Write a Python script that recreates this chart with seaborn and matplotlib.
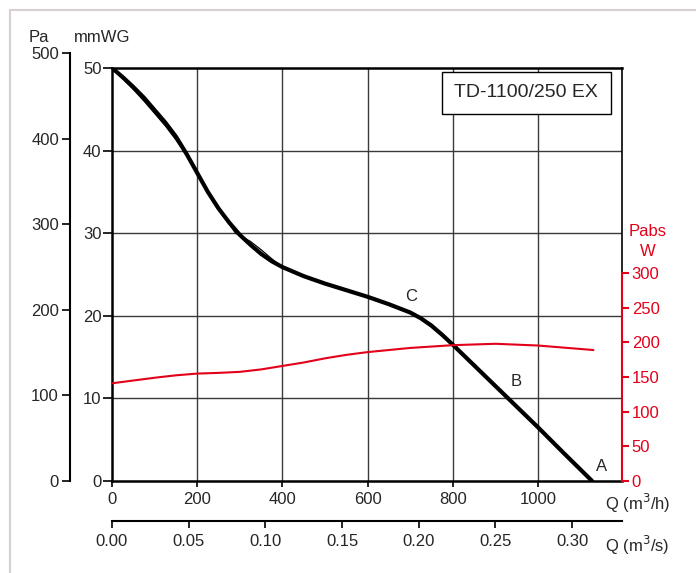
import numpy as np
import seaborn as sns
import matplotlib
matplotlib.use("Agg")
from matplotlib import pyplot as plt
from matplotlib.lines import Line2D

# Fan curve (pressure in mmWG vs flow in m3/h)
q_fan = [0, 25, 50, 75, 100, 125, 150, 175, 200, 225, 250, 275, 300, 325, 350, 375,
         400, 450, 500, 550, 600, 650, 700, 725, 750, 775, 800, 850, 900, 950, 1000,
         1060, 1127]
p_fan = [50, 48.9, 47.7, 46.4, 44.9, 43.4, 41.7, 39.6, 37.3, 35.0, 33.0, 31.3, 29.8,
         28.6, 27.5, 26.6, 25.9, 24.8, 23.9, 23.1, 22.3, 21.4, 20.4, 19.7, 18.8, 17.7,
         16.5, 14.0, 11.5, 9.0, 6.5, 3.4, 0]
# second (thin) curve, nearly on top of the first
q_thin = [0, 25, 50, 75, 100, 125, 150, 175, 200, 250, 290, 325, 350, 375, 400, 500,
          600, 700, 750, 800, 900, 1000, 1127]
p_thin = [50, 48.7, 47.4, 46.0, 44.5, 43.0, 41.3, 39.4, 37.3, 33.0, 30.0, 29.0, 28.0,
          26.9, 25.9, 23.9, 22.3, 20.5, 19.0, 16.6, 11.5, 6.5, 0]

# Absorbed power (W)
q_pow = [0, 50, 100, 150, 200, 250, 300, 350, 400, 450, 500, 550, 600, 700, 800,
         900, 1000, 1130]
w_pow = [141, 145, 149, 152.5, 155, 156, 157.5, 161, 166, 171, 177, 182, 186, 192,
         196, 198, 195.5, 189]

mm_ticks = [0, 10, 20, 30, 40, 50]
pa_ticks = [0, 100, 200, 300, 400, 500]
w_ticks = [0, 50, 100, 150, 200, 250, 300]
qh_ticks = [0, 200, 400, 600, 800, 1000]
qs_ticks = [0.00, 0.05, 0.10, 0.15, 0.20, 0.25, 0.30]

curve_labels = ["C", "B", "A"]
label_pos = [(702, 22.3), (948, 12.1), (1148, 1.8)]
model = "TD-1100/250 EX"

RED = "#e2001a"

sns.set_theme(style="white")
plt.rcParams['font.family'] = ['Liberation Sans', 'DejaVu Sans']
plt.rcParams['font.size'] = 12

W, H = 696, 573
fig = plt.figure(figsize=(W / 100, H / 100), dpi=100)

x0, x1 = 112, 622
y_bot, y_top = 481, 68
ax = fig.add_axes([x0 / W, 1 - y_bot / H, (x1 - x0) / W, (y_bot - y_top) / H])
xmax = (x1 - x0) / 0.426
ax.set_xlim(0, xmax)
ax.set_ylim(0, 50)

# grid
for v in qh_ticks[1:]:
    ax.axvline(v, color="#3a3a3a", lw=1, zorder=1)
for v in mm_ticks[1:-1]:
    ax.axhline(v, color="#3a3a3a", lw=1, zorder=1)

for s in ["left", "bottom", "top", "right"]:
    ax.spines[s].set_color("black")
    ax.spines[s].set_linewidth(1.8)
ax.spines["right"].set_linewidth(1.2)

ax.set_yticks(mm_ticks)
ax.set_xticks(qh_ticks)
ax.tick_params(axis="y", direction="out", length=6.5, width=1.2, color="black",
               labelsize=12, pad=1, left=True)
ax.tick_params(axis="x", direction="out", length=4, width=1.2, color="black",
               labelsize=12, pad=4, bottom=True)

sns.lineplot(x=q_thin, y=p_thin, ax=ax, color="black", lw=0.9, sort=False,
             estimator=None, zorder=3)
sns.lineplot(x=q_fan, y=p_fan, ax=ax, color="black", lw=3, sort=False,
             estimator=None, zorder=4)

for lab, (qx, py) in zip(curve_labels, label_pos):
    ax.text(qx, py, lab, fontsize=12, ha="center", va="center", zorder=5)

ax.text(0.812, 0.94, model, transform=ax.transAxes, fontsize=14, ha="center",
        va="center", zorder=6,
        bbox=dict(boxstyle="square,pad=0.65", fc="white", ec="black", lw=1))

# power axis (right, red)
ax2 = ax.twinx()
ax2.set_ylim(0, (y_bot - y_top) / 0.693)
sns.lineplot(x=q_pow, y=w_pow, ax=ax2, color=RED, lw=1.5, sort=False,
             estimator=None)
ax2.set_yticks(w_ticks)
ax2.spines["right"].set_color(RED)
ax2.spines["right"].set_linewidth(1.5)
ax2.spines["right"].set_bounds(0, 300)
for s in ["left", "top", "bottom"]:
    ax2.spines[s].set_visible(False)
ax2.tick_params(axis="y", direction="out", length=5, width=1.5, colors=RED,
                labelsize=12, pad=2, right=True)
ax2.set_ylabel("")
fig.text(648 / W, 1 - 232 / H, "Pabs", color=RED, fontsize=12, ha="center", va="center")
fig.text(648 / W, 1 - 251 / H, "W", color=RED, fontsize=12, ha="center", va="center")

# Pa axis (outer left)
axp = fig.add_axes([70 / W, 1 - y_bot / H, 0.001, (y_bot - 53) / H])
axp.patch.set_visible(False)
axp.set_ylim(0, 500)
axp.set_yticks(pa_ticks)
for s in ["right", "top", "bottom"]:
    axp.spines[s].set_visible(False)
axp.spines["left"].set_color("black")
axp.spines["left"].set_linewidth(1.5)
axp.set_xticks([])
axp.tick_params(axis="y", direction="out", length=6, width=1.2, color="black",
                labelsize=12, pad=2, left=True)

fig.text(39 / W, 1 - 37 / H, "Pa", fontsize=12, ha="center", va="center")
fig.text(102 / W, 1 - 37 / H, "mmWG", fontsize=12, ha="center", va="center")

# m3/s secondary axis
sec = ax.secondary_xaxis((y_bot - 521) / (y_bot - y_top),
                         functions=(lambda q: q / 3600, lambda s: s * 3600))
sec.set_xticks(qs_ticks)
sec.set_xticklabels([f"{v:.2f}" for v in qs_ticks])
sec.spines["bottom"].set_linewidth(1.5)
sec.spines["bottom"].set_color("black")
sec.tick_params(axis="x", direction="out", length=5, width=1.2, color="black",
                labelsize=12, pad=4, bottom=True)

fig.text(605 / W, 1 - 503 / H, "Q (m$^3$/h)", fontsize=12, ha="left", va="center")
fig.text(605 / W, 1 - 545 / H, "Q (m$^3$/s)", fontsize=12, ha="left", va="center")

# light frame around the figure
fc = "#d8cfd1"
fig.add_artist(Line2D([10 / W, 1], [1 - 10 / H, 1 - 10 / H], color=fc, lw=1.5,
                      transform=fig.transFigure))
fig.add_artist(Line2D([10 / W, 10 / W], [0, 1 - 10 / H], color=fc, lw=1.5,
                      transform=fig.transFigure))

fig.savefig("out.png", dpi=100)
